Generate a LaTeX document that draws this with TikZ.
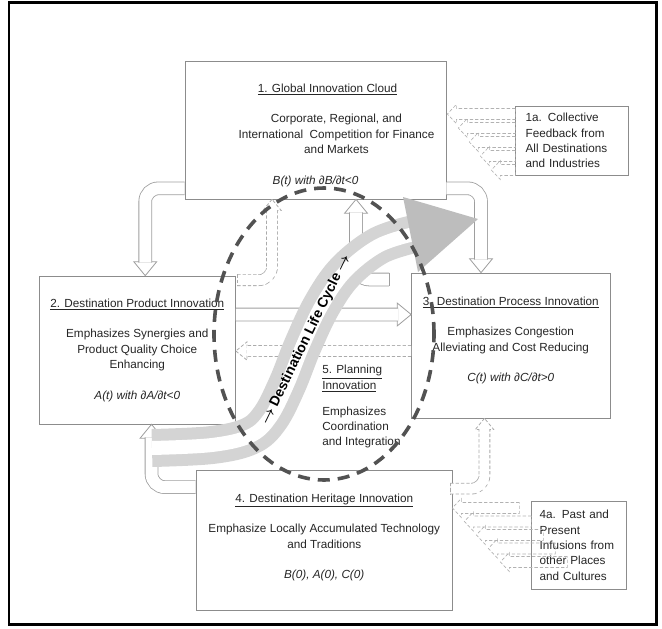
\documentclass[tikz,border=0pt]{standalone}
\usepackage{fontspec}
\setmainfont{Liberation Sans}
\usetikzlibrary{positioning}

\newcommand{\px}{0.75pt}

\begin{document}
\begin{tikzpicture}[x=0.75pt,y=-0.75pt,
    every node/.style={text=black!85,font=\fontsize{8.8}{11.5}\selectfont},
    box/.style={draw=black!45,line width=0.5pt,fill=white,align=center,inner sep=0pt},
    note/.style={draw=black!45,line width=0.5pt,fill=white,align=left,inner ysep=0pt},
    hollow/.style={draw=black!38,line width=0.6pt,double=white,double distance=9pt,rounded corners=10pt},
    dashhollow/.style={draw=black!33,line width=8.7pt,dash pattern=on 2.5pt off 1.5pt,rounded corners=10pt,
                       postaction={draw=white,line width=7.5pt,solid}},
    dashline/.style={draw=black!33,line width=0.6pt,dash pattern=on 2.5pt off 1.5pt},
    thinarrow/.style={draw=black!30,line width=0.5pt,dash pattern=on 2.5pt off 1.5pt},
    openhead/.style={draw=black!38,fill=white,line width=0.6pt},
    dashhead/.style={openhead,draw=black!33,dash pattern=on 2.5pt off 1.5pt,scale=0.8},
    tip/.pic={\path[pic actions] (0,0) -- (-14,-11.5) -- (-14,11.5) -- cycle;},
    lifeloop/.style={draw=black!68,line width=2.7pt,dash pattern=on 9pt off 6pt}]

  \useasboundingbox (0,0) rectangle (662,629);
  \draw[line width=1.8pt] (9,2.5) rectangle (656.5,624.5);

  % the four innovation boxes
  \node[box,minimum width=261*\px,minimum height=138*\px] (cloud) at (315.5,130)
    {\rule{0pt}{14pt}\hspace*{18pt}\underline{1. Global Innovation Cloud}\\[11.5pt]
     \hspace*{31.5pt}Corporate, Regional, and\\
     \hspace*{31.5pt}International\ \ Competition for Finance\\
     \hspace*{31.5pt}and Markets\\[11.5pt]
     \textit{B(t) with ∂B/∂t<0}};
  \node[box,minimum width=196.5*\px,minimum height=148*\px] (product) at (137.25,350)
    {\underline{2. Destination Product Innovation}\\[11.5pt]
     Emphasizes Synergies and\\ Product Quality Choice\\ Enhancing\\[11.5pt]
     \textit{A(t) with ∂A/∂t<0}};
  \node[box,minimum width=198.5*\px,minimum height=145*\px] (process) at (510.75,345.5)
    {\underline{3. Destination Process Innovation}\\[11.5pt]
     Emphasizes Congestion\\ Alleviating and Cost Reducing\\[11.5pt]
     \textit{C(t) with ∂C/∂t>0}\rule[-9.5pt]{0pt}{9.5pt}};
  \node[box,minimum width=256.5*\px,minimum height=140*\px] (heritage) at (324.25,540)
    {\underline{4. Destination Heritage Innovation}\\[11.5pt]
     Emphasize Locally Accumulated Technology\\ and Traditions\\[11.5pt]
     \textit{B(0), A(0), C(0)}\rule[-5.5pt]{0pt}{5.5pt}};

  % outside sources
  \node[note,inner xsep=7.5pt,text width=93*\px,minimum height=69*\px,
        right=51.75pt of cloud,yshift=-7.9pt] (feedback)
    {1a. Collective\\ Feedback from\\ All Destinations\\ and Industries};
  \node[note,inner xsep=6.4pt,text width=78.5*\px,minimum height=88.5*\px,
        right=58.5pt of heritage,yshift=-3.9pt] (infusion)
    {4a. Past and\\ Present\\ Infusions from\\ other Places\\ and Cultures};

  \node[align=left,anchor=north west,inner sep=0pt] (planning) at (322,365)
    {\underline{5. Planning}\\ \underline{Innovation}\\[8pt]
     Emphasizes\\ Coordination\\ and Integration};

  % hollow flow arrows
  \pic[openhead,rotate=-90] at ([xshift=6pt]product.north) {tip};
  \draw[hollow] ([yshift=8.25pt]cloud.south west) -| ([xshift=6pt,yshift=9.8pt]product.north);
  \pic[openhead,rotate=-90] at ([xshift=-22.3pt]process.north) {tip};
  \draw[hollow] ([yshift=8.25pt]cloud.south east) -| ([xshift=-22.3pt,yshift=9.8pt]process.north);
  \pic[openhead,rotate=90] at ([xshift=10.7pt]product.south) {tip};
  \draw[hollow] ([yshift=-13.1pt]heritage.north west) -| ([xshift=10.7pt,yshift=-9.8pt]product.south);
  \pic[openhead] at ([yshift=23.25pt]process.west) {tip};
  \draw[hollow] ([yshift=26.6pt]product.east) -- ([xshift=-9.8pt,yshift=23.25pt]process.west);

  \coordinate (loopend) at (389,279.5);
  \pic[openhead,rotate=90] at ([xshift=30.4pt]cloud.south) {tip};
  \draw[hollow] (loopend) -| ([xshift=30.4pt,yshift=-9.8pt]cloud.south);
  \draw[draw=black!38,line width=0.6pt] ([yshift=5.1pt]loopend) -- ([yshift=-5.1pt]loopend);

  % dashed feedback arrows
  \pic[dashhead,rotate=180] at ([yshift=-0.75pt]product.east) {tip};
  \draw[dashhollow] ([yshift=-4.1pt]process.west) -- ([xshift=8pt,yshift=-0.75pt]product.east);
  \pic[dashhead,rotate=90] at ([xshift=-32.6pt]cloud.south) {tip};
  \draw[dashhollow] ([xshift=1pt,yshift=-3.4pt]product.north east) -| ([xshift=-32.6pt,yshift=-8pt]cloud.south);
  \draw[dashline] ([xshift=1pt,yshift=0.95pt]product.north east) -- ([xshift=1pt,yshift=-7.75pt]product.north east);
  \pic[dashhead,rotate=90] at ([xshift=-19.7pt]process.south) {tip};
  \draw[dashhollow] ([xshift=-1.9pt,yshift=-14.25pt]heritage.north east) -| ([xshift=-19.7pt,yshift=-8pt]process.south);
  \draw[dashline] ([xshift=-1.9pt,yshift=-9.9pt]heritage.north east) -- ([xshift=-1.9pt,yshift=-18.6pt]heritage.north east);

  \foreach \k in {0,...,4}
    \draw[thinarrow] ([yshift={(26.5-14*\k)*\px}]feedback.west) ++(0,-5.5) -- ++({-(59-11*\k)},0)
      -- ++(0,-4) -- ++(-9,9.5) -- ++(9,9.5) -- ++(0,-4) -- ++({59-11*\k},0) -- cycle;
  \foreach \k in {0,...,4}
    \draw[thinarrow] ([xshift={(12*\k-11.5)*\px},yshift={(37.25-13.5*\k)*\px}]infusion.west) ++(0,-5.5) -- ++(-58,0)
      -- ++(0,-4) -- ++(-9,9.5) -- ++(9,9.5) -- ++(0,-4) -- ++(58,0) -- cycle;

  % life cycle band
  \foreach \bw/\bc in {28.5pt/black!17,10.5pt/white}
    \draw[line width=\bw,\bc] plot[smooth,tension=0.6] coordinates {(152,448) (212,445) (250,436)
      (270,418) (287,385) (303,345) (322,305) (345,272) (378,246) (412,234.5)};
  \fill[black!26] (403,197) -- (478,219) -- (418,272) -- cycle;
  \node[rotate=64,text=black,font=\fontsize{10.5}{12}\selectfont\bfseries\boldmath] (lifecycle) at (306,340)
    {$\rightarrow$ Destination Life Cycle $\rightarrow$};

  \draw[lifeloop] (324,334) ellipse [x radius=82.5pt,y radius=109.5pt];
\end{tikzpicture}
\end{document}
